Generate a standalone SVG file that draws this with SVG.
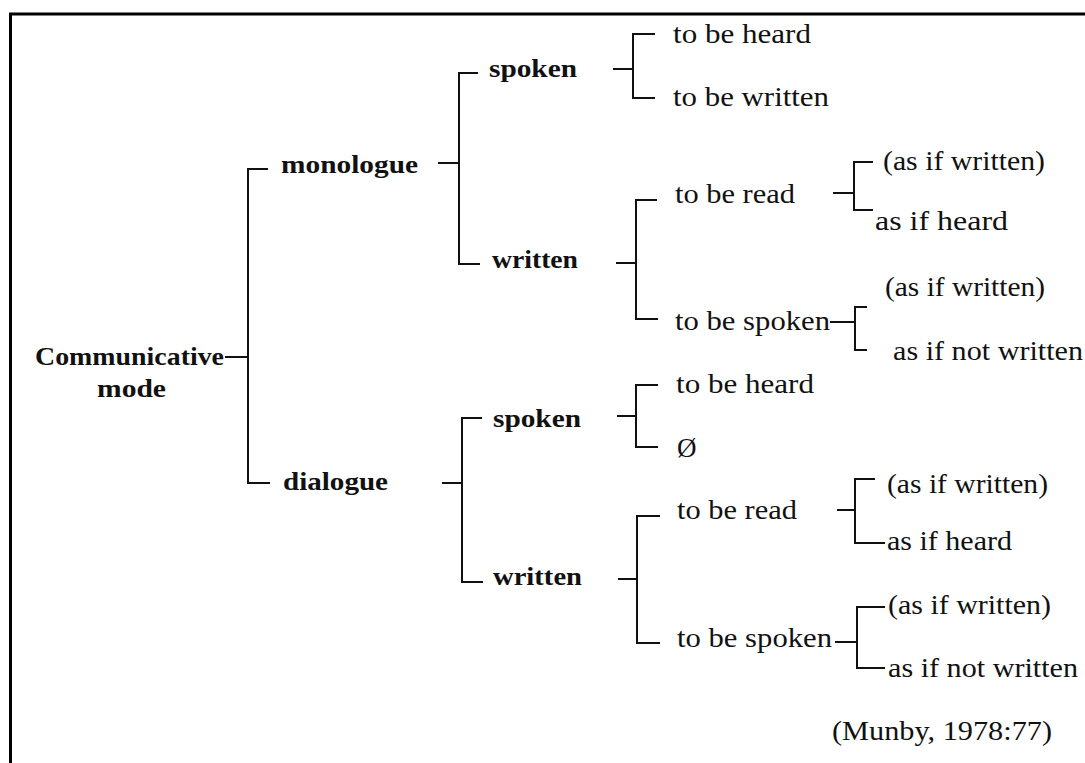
<svg xmlns="http://www.w3.org/2000/svg" width="1085" height="763" viewBox="0 0 1085 763">
<style>
.b{font-family:"Liberation Serif","Times New Roman",serif;font-weight:bold;font-size:25px;fill:#111}
.r{font-family:"Liberation Serif","Times New Roman",serif;font-size:27px;fill:#111}
.ln{fill:none;stroke:#111;stroke-width:2;stroke-linecap:butt;stroke-linejoin:miter}
</style>
<rect x="0" y="0" width="1085" height="763" fill="#fff"/>
<path d="M1085,14 H10.5 V763" fill="none" stroke="#000" stroke-width="3"/>
<g id="connectors" class="ln">
<path d="M225,357 H248"/>
<path d="M268,169 H248 V483 H270"/>
<path d="M438,163 H459"/>
<path d="M478,73 H459 V264 H480"/>
<path d="M613,69 H633"/>
<path d="M655,34 H633 V98 H655"/>
<path d="M616,263 H636"/>
<path d="M657,200 H636 V319 H658"/>
<path d="M833,193 H854"/>
<path d="M873,162 H854 V210 H873"/>
<path d="M830,322 H855"/>
<path d="M867,307 H855 V350 H867"/>
<path d="M442,483 H461"/>
<path d="M482,418 H462 V582 H483"/>
<path d="M617,416 H636"/>
<path d="M658,385 H636 V447 H658"/>
<path d="M618,579 H637"/>
<path d="M660,516 H637 V643 H660"/>
<path d="M837,510 H855"/>
<path d="M875,479 H855 V543 H885"/>
<path d="M835,642 H857"/>
<path d="M885,607 H857 V668 H885"/>
</g>
<g id="root"><text class="b" x="35" y="365" textLength="189" lengthAdjust="spacingAndGlyphs">Communicative</text><text class="b" x="97" y="397" textLength="69" lengthAdjust="spacingAndGlyphs">mode</text></g>
<g id="monologue"><text class="b" x="281" y="173" textLength="137" lengthAdjust="spacingAndGlyphs">monologue</text></g>
<g id="mono-spoken"><text class="b" x="489" y="77" textLength="88" lengthAdjust="spacingAndGlyphs">spoken</text></g>
<g id="mono-spoken-heard"><text class="r" x="673" y="43" textLength="138" lengthAdjust="spacingAndGlyphs">to be heard</text></g>
<g id="mono-spoken-written"><text class="r" x="673" y="106" textLength="156" lengthAdjust="spacingAndGlyphs">to be written</text></g>
<g id="mono-written"><text class="b" x="492" y="268" textLength="86" lengthAdjust="spacingAndGlyphs">written</text></g>
<g id="mono-read"><text class="r" x="675" y="203" textLength="120" lengthAdjust="spacingAndGlyphs">to be read</text></g>
<g id="mono-read-aiw"><text class="r" x="883" y="170" textLength="162" lengthAdjust="spacingAndGlyphs">(as if written)</text></g>
<g id="mono-read-aih"><text class="r" x="875" y="230" textLength="133" lengthAdjust="spacingAndGlyphs">as if heard</text></g>
<g id="mono-tobespoken"><text class="r" x="675" y="330" textLength="155" lengthAdjust="spacingAndGlyphs">to be spoken</text></g>
<g id="mono-tbs-aiw"><text class="r" x="885" y="296" textLength="160" lengthAdjust="spacingAndGlyphs">(as if written)</text></g>
<g id="mono-tbs-ainw"><text class="r" x="893" y="360" textLength="190" lengthAdjust="spacingAndGlyphs">as if not written</text></g>
<g id="dialogue"><text class="b" x="283" y="490" textLength="105" lengthAdjust="spacingAndGlyphs">dialogue</text></g>
<g id="dia-spoken"><text class="b" x="493" y="427" textLength="88" lengthAdjust="spacingAndGlyphs">spoken</text></g>
<g id="dia-spoken-heard"><text class="r" x="676" y="393" textLength="138" lengthAdjust="spacingAndGlyphs">to be heard</text></g>
<g id="dia-spoken-null"><text class="r" x="677" y="457">Ø</text></g>
<g id="dia-written"><text class="b" x="493" y="585" textLength="89" lengthAdjust="spacingAndGlyphs">written</text></g>
<g id="dia-read"><text class="r" x="677" y="519" textLength="120" lengthAdjust="spacingAndGlyphs">to be read</text></g>
<g id="dia-read-aiw"><text class="r" x="887" y="493" textLength="161" lengthAdjust="spacingAndGlyphs">(as if written)</text></g>
<g id="dia-read-aih"><text class="r" x="887" y="550" textLength="125" lengthAdjust="spacingAndGlyphs">as if heard</text></g>
<g id="dia-tobespoken"><text class="r" x="677" y="647" textLength="155" lengthAdjust="spacingAndGlyphs">to be spoken</text></g>
<g id="dia-tbs-aiw"><text class="r" x="888" y="614" textLength="163" lengthAdjust="spacingAndGlyphs">(as if written)</text></g>
<g id="dia-tbs-ainw"><text class="r" x="888" y="677" textLength="190" lengthAdjust="spacingAndGlyphs">as if not written</text></g>
<g id="source"><text class="r" x="832" y="740" textLength="220" lengthAdjust="spacingAndGlyphs">(Munby, 1978:77)</text></g>
</svg>
